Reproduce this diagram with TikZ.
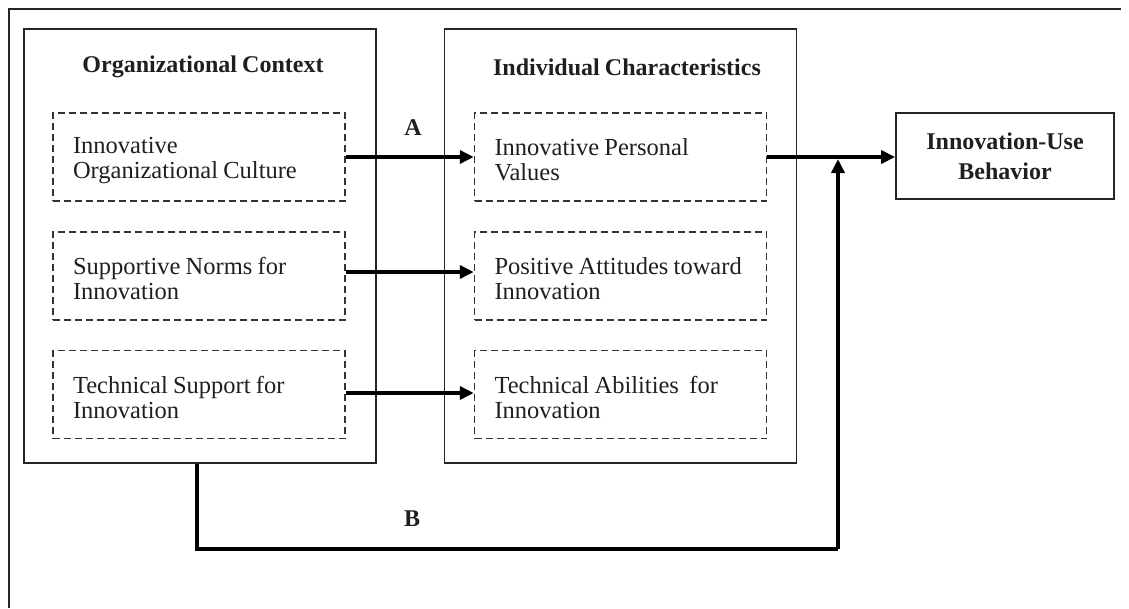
\documentclass[tikz,border=0pt]{standalone}
\usepackage{fontspec}
\setmainfont{Liberation Serif}[WordSpace=0.85]
\usetikzlibrary{arrows.meta}
% lowers the first line of a two-line label a little
\newcommand\firstline{\rule{0pt}{22.5pt}}
\begin{document}
\begin{tikzpicture}[x=1pt,y=-1pt,
  txt/.style={font=\fontsize{24.5}{25}\selectfont, text=black!88},
  btxt/.style={font=\fontsize{24}{30}\selectfont\bfseries, text=black!88},
  group/.style={draw=black!85, line width=1.8pt, minimum width=352pt, minimum height=434pt, inner sep=0pt},
  factor/.style={txt, draw=black!80, line width=1.5pt, dash pattern=on 7pt off 4pt,
    minimum width=292pt, minimum height=88pt, text width=252pt, inner xsep=20pt, align=flush left},
  outbox/.style={btxt, draw=black!85, line width=1.8pt, minimum width=218pt, minimum height=86pt, align=center},
  link/.style={line width=4pt, draw=black, -{Triangle[length=14pt,width=13pt]}},
  path/.style={line width=4pt, draw=black}
]
\useasboundingbox (0,0) rectangle (1129,608);

% frame (top and left edges)
\draw[line width=1.8pt, black!85] (9,608) -- (9,9) -- (1121,9);

% the two groups
\node[group] (org) at (200,246) {};
\node[group] (ind) at (620.5,246) {};
\node[btxt] (orgT) at (203,67) {Organizational Context};
\node[btxt] (indT) at (627,67) {Individual Characteristics};

% organizational factors
\node[factor] (o1) at (199,157) {\firstline Innovative\\\mbox{Organizational Culture}};
\node[factor] (o2) at (199,276) {\firstline\mbox{Supportive Norms for}\\Innovation};
\node[factor] (o3) at (199,394.5) {\firstline\mbox{Technical Support for}\\Innovation};

% individual factors
\node[factor] (i1) at (620.5,157) {\firstline\mbox{Innovative Personal}\\Values};
\node[factor] (i2) at (620.5,276) {\firstline\mbox{Positive Attitudes toward}\\Innovation};
\node[factor] (i3) at (620.5,394.5) {\firstline\mbox{Technical Abilities\ \ for}\\Innovation};

% outcome
\node[outbox] (out) at (1005,156) {Innovation-Use\\Behavior};

% connectors
\draw[link] (o1.east) -- (i1.west);
\draw[link] (o2.east |- 0,272) -- (i2.west |- 0,272);
\draw[link] (o3.east |- 0,393) -- (i3.west |- 0,393);
\draw[link] (i1.east) -- (out.west |- i1.east);

\coordinate (join) at (838,159);
\draw[path] ([xshift=-3pt]org.south) -- (197,549) -- (838,549);
\draw[link] (838,549) -- (join);

% path labels
\node[btxt] (labA) at (413,128) {A};
\node[btxt] (labB) at (412,519) {B};
\end{tikzpicture}
\end{document}
